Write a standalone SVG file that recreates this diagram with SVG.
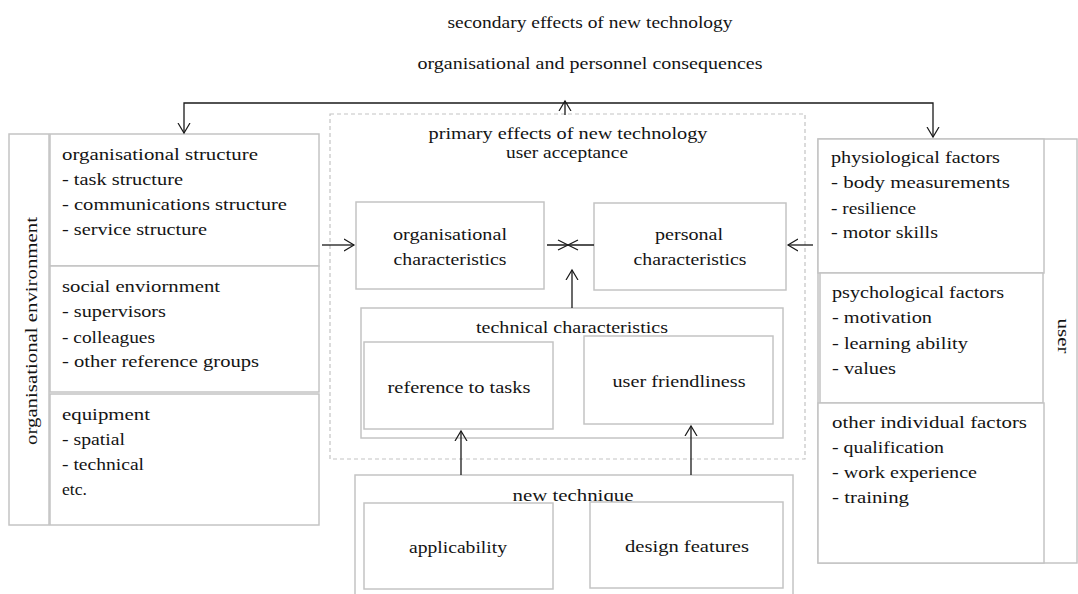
<svg xmlns="http://www.w3.org/2000/svg" width="1078" height="594" viewBox="0 0 1078 594">
<style>
.t{font-family:"Liberation Serif","DejaVu Serif",serif;font-size:17px;fill:#141414}
.m{text-anchor:middle}
.box{fill:#fff;stroke:#c4c4c4;stroke-width:1.5}
.dash{fill:none;stroke:#c4c4c4;stroke-width:1.2;stroke-dasharray:4 3}
.conn{fill:none;stroke:#1a1a1a;stroke-width:1.3}
</style>
<defs>
<marker id="ah" markerUnits="userSpaceOnUse" markerWidth="12" markerHeight="14" refX="10" refY="6" orient="auto" viewBox="0 0 12 12">
<path d="M0,0 L10,6 L0,12" fill="none" stroke="#1a1a1a" stroke-width="1.2"/>
</marker>
</defs>
<rect width="1078" height="594" fill="#fff"/>

<g id="top-labels">
<text class="t m" x="590" y="28" textLength="285" lengthAdjust="spacingAndGlyphs">secondary effects of new technology</text>
<text class="t m" x="590" y="69" textLength="345" lengthAdjust="spacingAndGlyphs">organisational and personnel consequences</text>
</g>

<g id="primary-effects">
<rect class="dash" x="330" y="114" width="475" height="345"/>
<text class="t m" x="568" y="139" textLength="279" lengthAdjust="spacingAndGlyphs">primary effects of new technology</text>
<text class="t m" x="567" y="158" textLength="122" lengthAdjust="spacingAndGlyphs">user acceptance</text>
</g>

<g id="org-environment">
<rect class="box" x="9" y="134" width="40" height="391"/>
<text class="t m" transform="translate(37,331) rotate(-90)" x="0" y="0" textLength="228" lengthAdjust="spacingAndGlyphs">organisational environment</text>
</g>
<g id="org-structure">
<rect class="box" x="50" y="134" width="269" height="132"/>
<text class="t" x="62" y="160" textLength="196" lengthAdjust="spacingAndGlyphs">organisational structure</text>
<text class="t" x="62" y="185" textLength="121" lengthAdjust="spacingAndGlyphs">- task structure</text>
<text class="t" x="62" y="210" textLength="225" lengthAdjust="spacingAndGlyphs">- communications structure</text>
<text class="t" x="62" y="235" textLength="145" lengthAdjust="spacingAndGlyphs">- service structure</text>
</g>
<g id="social-environment">
<rect class="box" x="50" y="266" width="269" height="126"/>
<text class="t" x="62" y="292" textLength="158" lengthAdjust="spacingAndGlyphs">social enviornment</text>
<text class="t" x="62" y="317" textLength="104" lengthAdjust="spacingAndGlyphs">- supervisors</text>
<text class="t" x="62" y="343" textLength="93" lengthAdjust="spacingAndGlyphs">- colleagues</text>
<text class="t" x="62" y="367" textLength="197" lengthAdjust="spacingAndGlyphs">- other reference groups</text>
</g>
<g id="equipment">
<rect class="box" x="50" y="394" width="269" height="131"/>
<text class="t" x="62" y="420" textLength="88" lengthAdjust="spacingAndGlyphs">equipment</text>
<text class="t" x="62" y="445" textLength="63" lengthAdjust="spacingAndGlyphs">- spatial</text>
<text class="t" x="62" y="470" textLength="82" lengthAdjust="spacingAndGlyphs">- technical</text>
<text class="t" x="62" y="495" textLength="25" lengthAdjust="spacingAndGlyphs">etc.</text>
</g>

<g id="user">
<rect class="box" x="818" y="139" width="259" height="424"/>
<text class="t m" transform="translate(1058,336) rotate(90)" x="0" y="0" textLength="35" lengthAdjust="spacingAndGlyphs">user</text>
</g>
<g id="physiological">
<rect class="box" x="818" y="139" width="226" height="134"/>
<text class="t" x="831" y="163" textLength="169" lengthAdjust="spacingAndGlyphs">physiological factors</text>
<text class="t" x="831" y="188" textLength="179" lengthAdjust="spacingAndGlyphs">- body measurements</text>
<text class="t" x="831" y="214" textLength="85" lengthAdjust="spacingAndGlyphs">- resilience</text>
<text class="t" x="831" y="238" textLength="107" lengthAdjust="spacingAndGlyphs">- motor skills</text>
</g>
<g id="psychological">
<rect class="box" x="820" y="273" width="223" height="130"/>
<text class="t" x="832" y="298" textLength="172" lengthAdjust="spacingAndGlyphs">psychological factors</text>
<text class="t" x="832" y="323" textLength="100" lengthAdjust="spacingAndGlyphs">- motivation</text>
<text class="t" x="832" y="349" textLength="136" lengthAdjust="spacingAndGlyphs">- learning ability</text>
<text class="t" x="832" y="374" textLength="64" lengthAdjust="spacingAndGlyphs">- values</text>
</g>
<g id="other-individual">
<rect class="box" x="818" y="403" width="226" height="160"/>
<text class="t" x="832" y="428" textLength="195" lengthAdjust="spacingAndGlyphs">other individual factors</text>
<text class="t" x="832" y="453" textLength="112" lengthAdjust="spacingAndGlyphs">- qualification</text>
<text class="t" x="832" y="478" textLength="145" lengthAdjust="spacingAndGlyphs">- work experience</text>
<text class="t" x="832" y="503" textLength="77" lengthAdjust="spacingAndGlyphs">- training</text>
</g>

<g id="org-characteristics">
<rect class="box" x="356" y="202" width="188" height="87"/>
<text class="t m" x="450" y="240" textLength="114" lengthAdjust="spacingAndGlyphs">organisational</text>
<text class="t m" x="450" y="265" textLength="113" lengthAdjust="spacingAndGlyphs">characteristics</text>
</g>
<g id="personal-characteristics">
<rect class="box" x="594" y="203" width="192" height="87"/>
<text class="t m" x="689" y="240" textLength="68" lengthAdjust="spacingAndGlyphs">personal</text>
<text class="t m" x="690" y="265" textLength="113" lengthAdjust="spacingAndGlyphs">characteristics</text>
</g>
<g id="technical-characteristics">
<rect class="box" x="361" y="308" width="422" height="130"/>
<text class="t m" x="572" y="333" textLength="192" lengthAdjust="spacingAndGlyphs">technical characteristics</text>
</g>
<g id="reference-to-tasks">
<rect class="box" x="364" y="342" width="189" height="87"/>
<text class="t m" x="459" y="393" textLength="143" lengthAdjust="spacingAndGlyphs">reference to tasks</text>
</g>
<g id="user-friendliness">
<rect class="box" x="584" y="336" width="189" height="88"/>
<text class="t m" x="679" y="387" textLength="133" lengthAdjust="spacingAndGlyphs">user friendliness</text>
</g>
<g id="new-technique">
<rect class="box" x="355" y="475" width="438" height="130"/>
<text class="t m" x="573" y="501" textLength="121" lengthAdjust="spacingAndGlyphs">new technique</text>
</g>
<g id="applicability">
<rect class="box" x="364" y="503" width="189" height="86"/>
<text class="t m" x="458" y="553" textLength="98" lengthAdjust="spacingAndGlyphs">applicability</text>
</g>
<g id="design-features">
<rect class="box" x="590" y="502" width="193" height="86"/>
<text class="t m" x="687" y="552" textLength="124" lengthAdjust="spacingAndGlyphs">design features</text>
</g>

<g id="connectors">
<polyline class="conn" points="565,103 184,103 184,133" marker-end="url(#ah)"/>
<polyline class="conn" points="565,103 933,103 933,137" marker-end="url(#ah)"/>
<line class="conn" x1="565" y1="115" x2="565" y2="101" marker-end="url(#ah)"/>
<line class="conn" x1="322" y1="245" x2="354" y2="245" marker-end="url(#ah)"/>
<line class="conn" x1="813" y1="245" x2="788" y2="245" marker-end="url(#ah)"/>
<line class="conn" x1="594" y1="245" x2="547" y2="245"/>
<path class="conn" d="M558,240 L578,250 M558,250 L578,240"/>
<line class="conn" x1="572" y1="308" x2="572" y2="270" marker-end="url(#ah)"/>
<line class="conn" x1="461" y1="475" x2="461" y2="431" marker-end="url(#ah)"/>
<line class="conn" x1="691" y1="475" x2="691" y2="426" marker-end="url(#ah)"/>
</g>
</svg>
